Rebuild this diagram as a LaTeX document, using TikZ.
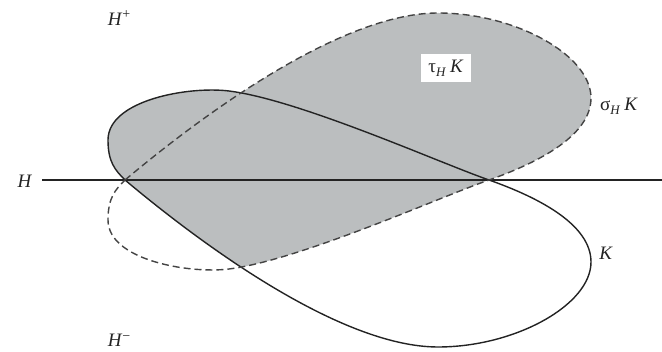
\documentclass[tikz,border=0pt]{standalone}
\usepackage{fontspec}
\setmainfont{Liberation Serif}
\definecolor{shadegray}{RGB}{187,190,191}
\definecolor{inkgray}{RGB}{35,35,35}
\newcommand{\Kpath}{(125,0) .. controls (200,63) and (340,167) .. (438,167) .. controls (515,167) and (591,125) .. (591,82) .. controls (591,45) and (540,18) .. (489,0) .. controls (440,-17) and (300,-80) .. (229,-89) .. controls (189,-94) and (108,-80) .. (108,-40) .. controls (108,-18) and (115,-10) .. cycle}
\newcommand{\subH}{\raisebox{-0.45ex}{\fontsize{13}{13}\selectfont\itshape H}}
\tikzset{
  kline/.style={line width=1.4pt, draw=inkgray},
  sigline/.style={line width=1.4pt, draw=inkgray!85, dash pattern=on 7pt off 4pt},
  hline/.style={line width=1.3pt, draw=inkgray},
  lbl/.style={font=\fontsize{19}{22}\selectfont, inner sep=0pt, text=inkgray},
}
\begin{document}
\begin{tikzpicture}[x=1pt, y=-1pt]
\useasboundingbox (0,-180) rectangle (662,172);
% shading: union above H, intersection below H
\begin{scope}
  \clip (0,-180) rectangle (662,0);
  \fill[shadegray] \Kpath;
  \fill[shadegray, yscale=-1] \Kpath;
\end{scope}
\begin{scope}
  \clip (0,0) rectangle (662,172);
  \clip \Kpath;
  \fill[shadegray, yscale=-1] \Kpath;
\end{scope}
% hyperplane H
\coordinate (hs) at (42,0);
\coordinate (he) at (662,0);
\draw[hline] (hs) -- (he);
% K and its reflection
\draw[kline] \Kpath;
\draw[sigline, yscale=-1] \Kpath;
% labels
\node[lbl] (hplus) at (119,-162) {\textit{H}\raisebox{0.7ex}{\fontsize{14}{14}\selectfont +}};
\node[lbl] (hminus) at (119,160) {\textit{H}\raisebox{0.7ex}{\fontsize{14}{14}\selectfont −}};
\node[lbl] (hlab) at (25,1) {\textit{H}};
\node[lbl] (klab) at (606,73) {\textit{K}};
\node[lbl] (siglab) at (619,-74) {σ\subH\ \textit{K}};
\node[lbl, fill=white, inner xsep=7pt, inner ysep=6pt] (taulab) at (446,-112) {τ\subH\ \textit{K}};
\end{tikzpicture}
\end{document}
